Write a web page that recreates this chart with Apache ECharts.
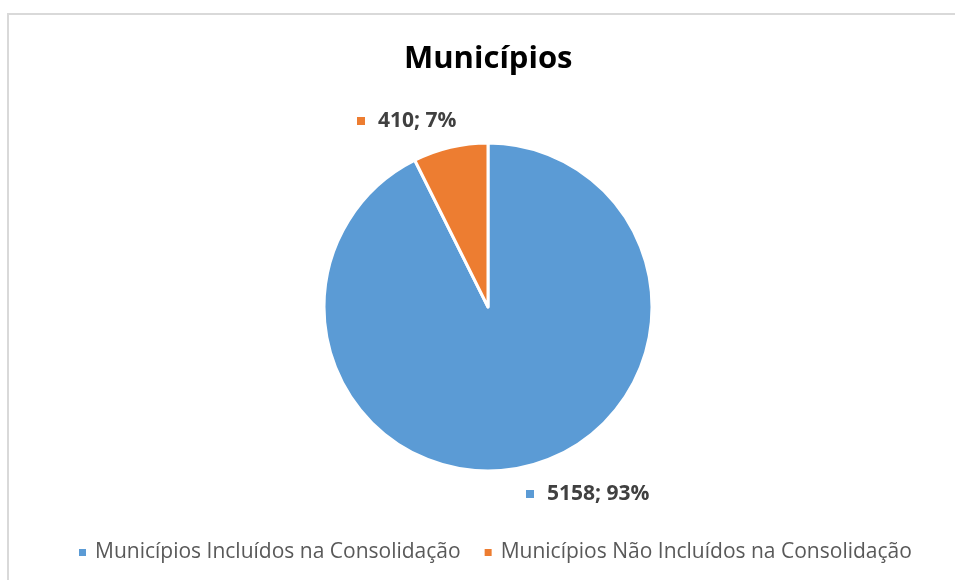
<!DOCTYPE html>
<html>
<head>
<meta charset="utf-8">
<script src="https://cdn.jsdelivr.net/npm/echarts@6/dist/echarts.min.js"></script>
<style>
  html, body { margin: 0; padding: 0; background: #fff; }
  #main { width: 955px; height: 580px; }
</style>
</head>
<body>
<div id="main"></div>
<script>
var categories = ['Municípios Incluídos na Consolidação', 'Municípios Não Incluídos na Consolidação'];
var values = [5158, 410];
var percents = ['93%', '7%'];
var colors = ['#5B9BD5', '#ED7D31'];

var font = 'Open Sans';

var option = {
    animation: false,
    color: colors,
    title: {
        text: 'Municípios',
        left: 399,
        top: 39,
        textStyle: { fontFamily: font, fontSize: 31, fontWeight: 'bold', color: '#000000' }
    },
    graphic: [{
        type: 'rect',
        shape: { x: 8, y: 14, width: 1000, height: 1000 },
        style: { fill: 'none', stroke: '#d9d9d9', lineWidth: 2 },
        silent: true
    }],
    legend: {
        data: categories,
        bottom: 12,
        left: 72,
        icon: 'rect',
        itemWidth: 9,
        itemHeight: 9,
        itemGap: 22,
        textStyle: { fontFamily: font, fontSize: 21, color: '#595959', padding: [0, 0, 0, 3] }
    },
    series: [{
        type: 'pie',
        center: [488, 307],
        radius: 164,
        startAngle: 90,
        clockwise: true,
        itemStyle: { borderColor: '#ffffff', borderWidth: 3 },
        labelLine: { show: false },
        label: {
            show: true,
            position: 'outside',
            formatter: function (p) {
                return '{m' + p.dataIndex + '|}{t|' + p.value + '; ' + percents[p.dataIndex] + '}';
            },
            rich: {
                m0: { width: 8, height: 8, backgroundColor: colors[0], padding: 0 },
                m1: { width: 8, height: 8, backgroundColor: colors[1], padding: 0 },
                t: { fontFamily: font, fontSize: 21, fontWeight: 'bold', color: '#404040', padding: [0, 0, 0, 13] }
            }
        },
        labelLayout: function (p) {
            if (p.dataIndex === 0) {
                return { x: 526, y: 494, align: 'left', verticalAlign: 'middle' };
            }
            return { x: 357, y: 121, align: 'left', verticalAlign: 'middle' };
        },
        data: categories.map(function (c, i) {
            return { name: c, value: values[i] };
        })
    }]
};

var myChart = echarts.init(document.getElementById('main'));
myChart.setOption(option);
</script>
</body>
</html>
